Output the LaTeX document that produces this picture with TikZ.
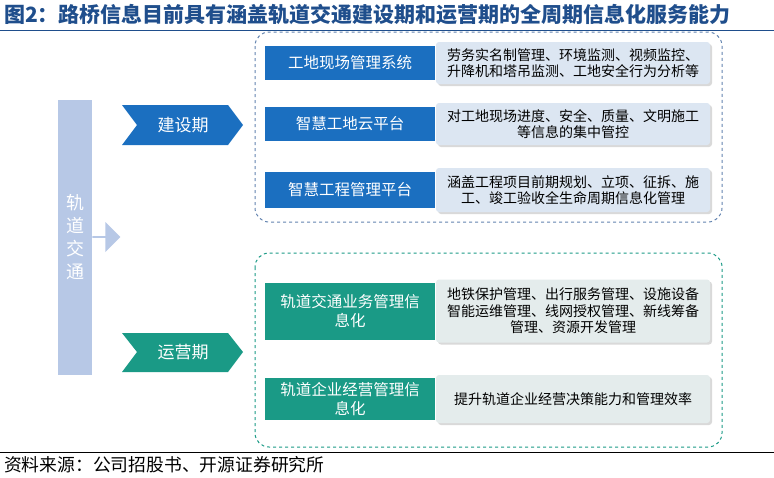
\documentclass[tikz,border=0pt]{standalone}
\usepackage{fontspec}
\setmainfont{Noto Sans CJK SC}
\usetikzlibrary{shapes.arrows,shadows}
\definecolor{tblue}{HTML}{1F4E8C}
\definecolor{bbox}{HTML}{1B6FC0}
\definecolor{lbox}{HTML}{DCE6F2}
\definecolor{tbox}{HTML}{1A9A86}
\definecolor{gbox}{HTML}{E4ECEC}
\definecolor{bar}{HTML}{B7C8E6}
\begin{document}
\begin{tikzpicture}[x=1pt,y=-1pt,
  hb/.style={fill=bbox,text=white,font=\fontsize{15.5}{18}\selectfont,inner sep=1pt},
  ht/.style={fill=tbox,text=white,font=\fontsize{15.5}{19}\selectfont,align=center,inner sep=1pt},
  lb/.style={fill=lbox,drop shadow={opacity=0.3,shadow xshift=2pt,shadow yshift=-2pt},rounded corners=3pt,font=\fontsize{14}{16.5}\selectfont,align=center,inner sep=1pt},
  lt/.style={lb,fill=gbox}]
\useasboundingbox (0,0) rectangle (774,477);
\node[anchor=west,text=tblue,font=\bfseries\fontsize{21}{23}\selectfont,inner sep=0] (title) at (4,15) {图2：路桥信息目前具有涵盖轨道交通建设期和运营期的全周期信息化服务能力};
\draw[tblue,line width=0.8pt] (0,30) -- (774,30);
\draw[black,line width=0.6pt] (0,452) -- (774,452);
\node[anchor=west,font=\fontsize{17.8}{19}\selectfont,inner sep=0] (src) at (4,465) {资料来源：公司招股书、开源证券研究所};
% bar
\node[fill=bar,minimum width=34,minimum height=275,anchor=north west] (bar) at (58,100) {};
\node[text=white,font=\fontsize{18}{23}\selectfont,align=center] at (75,237) {轨\\道\\交\\通};
\node[single arrow,fill=bar,minimum height=28,minimum width=30,single arrow head extend=3pt,inner sep=0] (ar) at (106,237) {};
% chevrons
\fill[bbox] (122,105) -- (228,105) -- (243,125) -- (228,145) -- (122,145) -- (137,125) -- cycle;
\node[text=white,font=\fontsize{17}{19}\selectfont] (jsq) at (183,125) {建设期};
\fill[tbox] (122,333) -- (228,333) -- (243,352) -- (228,372) -- (122,372) -- (137,352) -- cycle;
\node[text=white,font=\fontsize{17}{19}\selectfont] (yyq) at (183,352) {运营期};
% dashed boxes
\draw[dashed,line width=1pt,color=tblue!70,rounded corners=14pt] (255,32) rectangle (722,222);
\draw[dashed,line width=1pt,color=tbox,rounded corners=14pt] (255,253) rectangle (722,447);
% rows
\foreach \y/\h/\a/\b in {63/34/工地现场管理系统/{劳务实名制管理、环境监测、视频监控、\\升降机和塔吊监测、工地安全行为分析等},
 124/34/智慧工地云平台/{对工地现场进度、安全、质量、文明施工\\等信息的集中管控},
 190/36/智慧工程管理平台/{涵盖工程项目前期规划、立项、征拆、施\\工、竣工验收全生命周期信息化管理}}{
 \node[lb,minimum width=274,minimum height=\h+8] at (573,\y) {\b};
 \node[hb,minimum width=170,minimum height=\h] at (350,\y) {\a};
}
\foreach \y/\h/\a/\b in {311/57/{轨道交通业务管理信\\息化}/{地铁保护管理、出行服务管理、设施设备\\智能运维管理、线网授权管理、新线筹备\\管理、资源开发管理},
 399/42/{轨道企业经营管理信\\息化}/{提升轨道企业经营决策能力和管理效率}}{
 \node[lt,minimum width=274,minimum height=\h+6] at (573,\y) {\b};
 \node[ht,minimum width=170,minimum height=\h] at (350,\y) {\a};
}
\end{tikzpicture}
\end{document}
